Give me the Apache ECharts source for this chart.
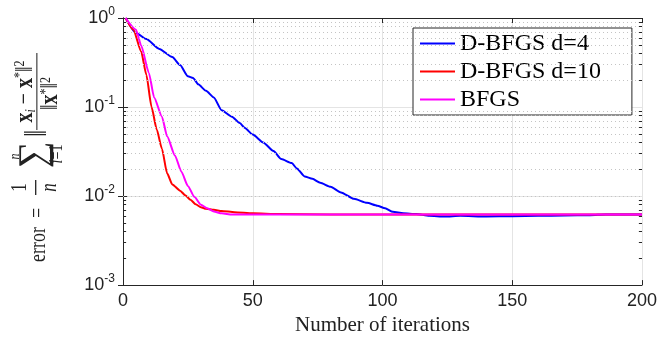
<!DOCTYPE html>
<html>
<head>
<meta charset="utf-8">
<script src="https://cdn.jsdelivr.net/npm/echarts@6/dist/echarts.min.js"></script>
<style>
  html, body { margin: 0; padding: 0; background: #fff; }
  #chart { width: 663px; height: 341px; }
</style>
</head>
<body>
<div id="chart"></div>
<script>
// series
const seriesNames = ['D-BFGS d=4', 'D-BFGS d=10', 'BFGS'];
const seriesColors = ['#0000ff', '#ff0000', '#ff00ff'];

const iterD4 = [1, 5, 9, 14, 19, 22, 25, 27, 29, 32, 35, 38, 42, 45, 47, 50, 54, 58, 61, 65, 67, 70, 73, 76, 80, 84, 89, 94, 98, 101, 104, 108, 113, 118, 124, 130, 140, 150, 160, 170, 180, 186, 190, 200];
const errD4 = [1, 0.68, 0.58, 0.45, 0.365, 0.296, 0.221, 0.212, 0.18, 0.152, 0.128, 0.092, 0.078, 0.066, 0.058, 0.049, 0.040, 0.032, 0.026, 0.0235, 0.0204, 0.0166, 0.0156, 0.0141, 0.0127, 0.011, 0.0093, 0.0084, 0.0078, 0.0073, 0.00665, 0.0064, 0.0063, 0.006, 0.0059, 0.006, 0.0059, 0.00595, 0.006, 0.00605, 0.0061, 0.0062, 0.0062, 0.0062];

const iterD10 = [1, 4, 7, 9, 11, 13, 15, 17, 19, 22, 24, 26, 28, 30, 32, 35, 38, 43, 50, 60, 80, 200];
const errD10 = [1, 0.74, 0.42, 0.23, 0.1, 0.056, 0.034, 0.018, 0.0135, 0.0115, 0.0102, 0.0091, 0.0081, 0.0075, 0.0072, 0.0070, 0.0068, 0.0066, 0.0064, 0.0063, 0.0062, 0.0062];

const iterBFGS = [1, 5, 7, 10, 12, 15, 17, 20, 22.5, 25, 27.5, 30, 32.5, 35, 38, 42, 50, 200];
const errBFGS = [1, 0.74, 0.49, 0.24, 0.128, 0.078, 0.047, 0.0286, 0.0188, 0.013, 0.0098, 0.008, 0.0073, 0.0067, 0.0064, 0.0062, 0.0062, 0.0062];

// log axis decades and the minor positions inside them
const yDecades = [0.001, 0.01, 0.1];
const minorSteps = [2, 3, 4, 5, 6, 7, 8, 9];
const minorValues = [];
yDecades.forEach(d => minorSteps.forEach(m => minorValues.push(+(d * m).toPrecision(3))));

const axisColor = '#262626';
const serif = '"Liberation Serif", "DejaVu Serif", serif';
const sans = '"Liberation Sans", Arial, sans-serif';

const chart = echarts.init(document.getElementById('chart'));

const lineData = [[iterD4, errD4], [iterD10, errD10], [iterBFGS, errBFGS]];
const lineSeries = lineData.map((pair, k) => ({
  name: seriesNames[k],
  type: 'line',
  data: pair[0].map((x, i) => [x, pair[1][i]]),
  showSymbol: false,
  symbol: 'none',
  smooth: 0.2,
  smoothMonotone: 'x',
  lineStyle: { color: seriesColors[k], width: 2 },
  itemStyle: { color: seriesColors[k] },
  z: 3
}));

// one piece of the rotated y label; u runs along the text, v across it
function label(text, u, v, font, opts) {
  opts = opts || {};
  return {
    type: 'text',
    x: u,
    y: v,
    scaleX: opts.scaleX || 1,
    style: {
      text: text, x: 0, y: 0, font: font, fill: '#222',
      align: opts.align || 'center', textAlign: opts.align || 'center',
      verticalAlign: 'middle', textVerticalAlign: 'middle',
      rich: opts.rich
    }
  };
}

const supRich = {
  b: { font: 'bold 20px ' + serif, verticalAlign: 'middle' },
  m: { font: '20px ' + serif, verticalAlign: 'middle' },
  sb: { font: 'italic 12px ' + serif, verticalAlign: 'bottom' },
  sp: { font: '12px ' + serif, verticalAlign: 'top' }
};

const option = {
  animation: false,
  grid: { left: 123, right: 21, top: 18, bottom: 45 },
  legend: {
    data: seriesNames,
    orient: 'vertical',
    left: 413,
    top: 28,
    backgroundColor: '#fff',
    borderColor: axisColor,
    borderWidth: 1,
    borderRadius: 0,
    padding: [3, 31, 3, 7],
    itemWidth: 35,
    itemHeight: 2,
    itemGap: 3,
    icon: 'rect',
    textStyle: { fontFamily: 'Liberation Serif', fontSize: 24, color: '#000', lineHeight: 25 }
  },
  xAxis: [{
    type: 'value',
    min: 0,
    max: 200,
    interval: 50,
    name: 'Number of iterations',
    nameLocation: 'middle',
    nameGap: 24,
    nameTextStyle: { fontFamily: serif, fontSize: 21, color: '#222' },
    axisLine: { lineStyle: { color: axisColor, width: 1 } },
    axisTick: { inside: true, length: 5, lineStyle: { color: axisColor } },
    axisLabel: { fontFamily: sans, fontSize: 18, color: '#222', margin: 7 },
    splitLine: { show: true, lineStyle: { color: '#e4e4e4', width: 1 } }
  }, {
    type: 'value',
    position: 'top',
    min: 0,
    max: 200,
    interval: 50,
    axisLine: { show: true, lineStyle: { color: axisColor, width: 1 } },
    axisTick: { show: true, inside: true, length: 5, lineStyle: { color: axisColor } },
    axisLabel: { show: false },
    splitLine: { show: false }
  }],
  yAxis: [{
    type: 'log',
    logBase: 10,
    min: 0.001,
    max: 1,
    axisLine: { show: true, lineStyle: { color: axisColor, width: 1 } },
    axisTick: { show: true, inside: true, length: 5, lineStyle: { color: axisColor } },
    axisLabel: {
      margin: 8,
      formatter: v => '{b|10}{s|' + Math.round(Math.log10(v)) + '}',
      rich: {
        b: { fontFamily: sans, fontSize: 18, color: '#222', lineHeight: 24, verticalAlign: 'middle' },
        s: { fontFamily: sans, fontSize: 12, color: '#222', verticalAlign: 'top' }
      }
    },
    splitLine: { show: true, lineStyle: { color: '#e4e4e4', width: 1 } }
  }, {
    type: 'log',
    logBase: 10,
    position: 'right',
    min: 0.001,
    max: 1,
    axisLine: { show: true, lineStyle: { color: axisColor, width: 1 } },
    axisTick: { show: true, inside: true, length: 5, lineStyle: { color: axisColor } },
    axisLabel: { show: false },
    splitLine: { show: false }
  }],
  graphic: [{
    // y label: error = 1/n sum ||x_i - x*||^2 / ||x*||^2, written along the axis
    type: 'group',
    x: 37,
    y: 262,
    rotation: Math.PI / 2,
    scaleX: 1,
    scaleY: 1.3,
    children: [
      label('error', 0, 1.5, '18px ' + serif, { align: 'left' }),
      label('=', 49, 0.5, '18px ' + serif),
      label('1', 74.5, -13, '17px ' + serif),
      { type: 'rect', shape: { x: 67, y: -1.5, width: 15, height: 1 }, style: { fill: '#222' } },
      label('n', 74.5, 10.5, 'italic 17px ' + serif),
      label('\u2211', 107, -1.5, '30px ' + serif, { scaleX: 1.25 }),
      label('n', 105.5, -17, 'italic 12px ' + serif),
      label('{i|i}{r|=1}', 108, 15.5, '14px ' + serif, { rich: { i: { font: 'italic 14px ' + serif }, r: { font: '14px ' + serif } } }),
      label('\u2016', 128.5, 0.5, '24px ' + serif),
      { type: 'rect', shape: { x: 132, y: -0.5, width: 77, height: 0.8 }, style: { fill: '#222' } },
      label('{b|x}{sb|i}{m| \u2212 }{b|x}{sp|*}{m|\u2016}{sp|2}', 170.5, -9, '20px ' + serif, { rich: supRich }),
      label('{m|\u2016}{b|x}{sp|*}{m|\u2016}{sp|2}', 168.5, 10.5, '20px ' + serif, { rich: supRich })
    ]
  }],
  series: [{
    // dotted minor grid of the log axis
    type: 'line',
    data: [],
    silent: true,
    z: 1,
    markLine: {
      silent: true,
      symbol: ['none', 'none'],
      label: { show: false },
      lineStyle: { color: '#c4c4c4', width: 1, type: [1, 3] },
      emphasis: { disabled: true },
      data: minorValues.map(v => ({ yAxis: v }))
    }
  }, {
    // minor ticks on left and right edges
    type: 'line',
    data: [],
    silent: true,
    z: 4,
    markLine: {
      silent: true,
      symbol: ['none', 'none'],
      label: { show: false },
      lineStyle: { color: axisColor, width: 1, type: 'solid' },
      emphasis: { disabled: true },
      data: minorValues.map(v => [{ coord: [0, v] }, { coord: [1.2, v] }])
        .concat(minorValues.map(v => [{ coord: [198.8, v] }, { coord: [200, v] }]))
    }
  }].concat(lineSeries)
};

chart.setOption(option);
window.addEventListener('resize', () => chart.resize());
</script>
</body>
</html>
